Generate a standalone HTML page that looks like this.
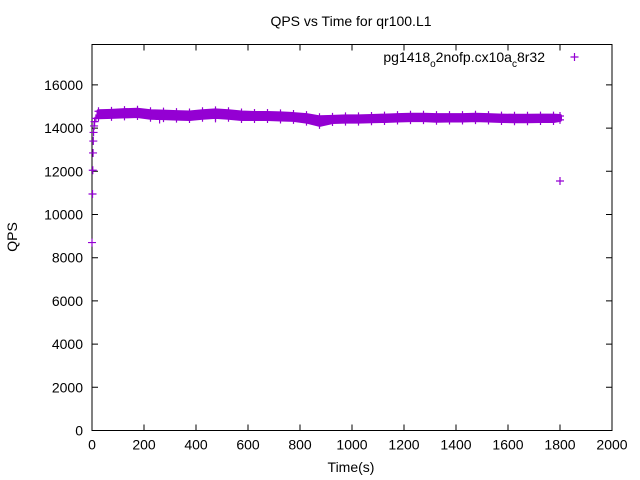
<!DOCTYPE html>
<html><head><meta charset="utf-8"><style>
body{margin:0;background:#fff}
svg{display:block;font-family:"Liberation Sans",sans-serif}
</style></head><body>
<svg id="chart" width="640" height="480" viewBox="0 0 640 480" xmlns="http://www.w3.org/2000/svg">
<rect width="640" height="480" fill="#fff"/>
<text x="351" y="26" font-size="14" text-anchor="middle">QPS vs Time for qr100.L1</text>
<text transform="translate(17,237) rotate(-90)" font-size="14" text-anchor="middle">QPS</text>
<text x="351" y="472" font-size="14" text-anchor="middle">Time(s)</text>
<g id="axes"></g>
<g id="marks"></g>
<g>
<text x="545" y="62" font-size="14" text-anchor="end">pg1418<tspan font-size="10" dy="5">o</tspan><tspan dy="-5">2nofp.cx10a</tspan><tspan font-size="10" dy="5">c</tspan><tspan dy="-5">8r32</tspan></text>
<path d="M570.5 57h8M574.5 53v8" stroke="#9400d3" stroke-width="1.2"/>
</g>
</svg>
<script>
const xTicks=[0,200,400,600,800,1000,1200,1400,1600,1800,2000];
const yTicks=[0,2000,4000,6000,8000,10000,12000,14000,16000];
const rampT=[0,2,3,4,5,6,8,10,15];
const rampQ=[8700,10950,12050,12850,13400,13800,14100,14300,14450];
const bandT=[25,75,125,175,225,275,325,375,425,475,525,575,625,675,725,775,825,875,925,975,1025,1075,1125,1175,1225,1275,1325,1375,1425,1475,1525,1575,1625,1675,1725,1775,1800];
const bandHi=[14780,14800,14830,14850,14780,14760,14740,14720,14780,14820,14780,14720,14700,14700,14680,14650,14600,14500,14520,14540,14540,14560,14580,14600,14620,14620,14600,14600,14600,14620,14600,14580,14570,14570,14580,14580,14560];
const bandLo=[14500,14520,14540,14560,14480,14460,14440,14420,14480,14520,14480,14420,14420,14420,14400,14380,14300,14150,14280,14300,14300,14320,14330,14350,14370,14370,14340,14350,14350,14370,14350,14330,14320,14320,14330,14330,14380];
const outT=[260,475,1800];
const outQ=[14400,14450,11550];
const X0=92,X1=612,Y0=430.5,Y1=44.5;
const xs=t=>X0+(t/2000)*(X1-X0);
const ys=q=>Y0-(q/2000)*43.2;
const NS="http://www.w3.org/2000/svg";
const axes=document.getElementById('axes'),marks=document.getElementById('marks');
function mk(tag,attrs,parent){const e=document.createElementNS(NS,tag);for(const k in attrs)e.setAttribute(k,attrs[k]);parent.appendChild(e);return e;}
const frame=mk('rect',{x:X0,y:Y1,width:X1-X0,height:Y0-Y1,fill:'none',stroke:'#000','stroke-width':1},axes);


xTicks.forEach(v=>{const x=xs(v);
const l=mk('path',{d:`M${x} ${Y0}v-6M${x} ${Y1}v6`,stroke:'#000'},axes);


const t=mk('text',{x:x,y:Y0+19,'font-size':14,'text-anchor':'middle'},axes);t.textContent=v;

});
yTicks.forEach(v=>{const y=ys(v);
const l=mk('path',{d:`M${X0} ${y}h6M${X1} ${y}h-6`,stroke:'#000'},axes);


const t=mk('text',{x:X0-9,y:y+5,'font-size':14,'text-anchor':'end'},axes);t.textContent=v;

});
const C='#9400d3';
function plus(t,q,name){const x=xs(t),y=ys(q);
const p=mk('path',{d:`M${x-4} ${y}h8M${x} ${y-4}v8`,stroke:C,'stroke-width':1.2},marks);

}
let d='';
bandT.forEach((t,i)=>{d+=(i?'L':'M')+xs(t)+' '+ys(bandHi[i]);});
for(let i=bandT.length-1;i>=0;i--)d+='L'+xs(bandT[i])+' '+ys(bandLo[i]);
const band=mk('path',{d:d+'Z',fill:C,stroke:C,'stroke-width':4,'stroke-linejoin':'round'},marks);


bandT.forEach((t,i)=>{plus(t,bandHi[i],'qps-point');plus(t,bandLo[i],'qps-point');});
rampT.forEach((t,i)=>plus(t,rampQ[i],'ramp-point'));
outT.forEach((t,i)=>plus(t,outQ[i],'outlier-point'));
</script>
</body></html>
